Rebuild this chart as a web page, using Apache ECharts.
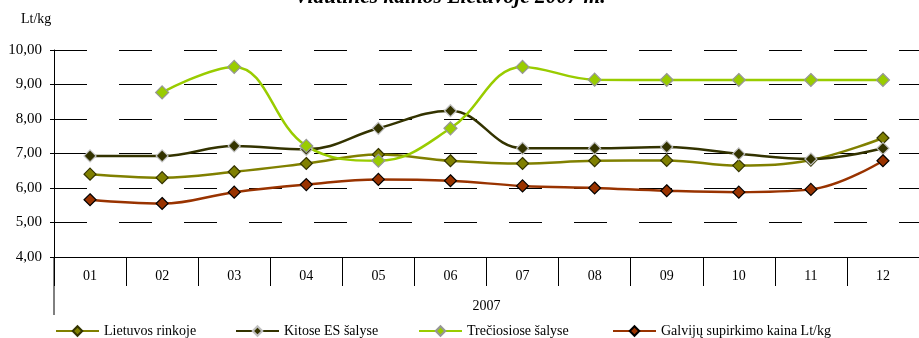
<!DOCTYPE html>
<html><head><meta charset="utf-8">
<script src="https://cdn.jsdelivr.net/npm/echarts@6/dist/echarts.min.js"></script>
<style>html,body{margin:0;padding:0;background:#fff;overflow:hidden}#c{width:919px;height:338px}</style>
</head><body><div id="c"></div>
<script>
const categories = ['01','02','03','04','05','06','07','08','09','10','11','12'];
const lietuvos = [6.40, 6.30, 6.47, 6.71, 6.97, 6.79, 6.71, 6.79, 6.80, 6.65, 6.81, 7.45];
const kitosES = [6.93, 6.93, 7.22, 7.12, 7.73, 8.24, 7.15, 7.15, 7.19, 6.99, 6.84, 7.15];
const treciosios = [null, 8.77, 9.51, 7.22, 6.79, 7.73, 9.51, 9.14, 9.13, 9.13, 9.13, 9.13];
const galviju = [5.66, 5.55, 5.88, 6.10, 6.25, 6.21, 6.06, 6.00, 5.92, 5.88, 5.96, 6.79];
const seriesNames = ['Lietuvos rinkoje', 'Kitose ES šalyse', 'Trečiosiose šalyse', 'Galvijų supirkimo kaina Lt/kg'];
const yTicks = {min: 4, max: 10, interval: 1};

const FONT = 'Liberation Serif';
const chart = echarts.init(document.getElementById('c'), null, {renderer: 'canvas'});

function mk(name, data, lineColor, fill, border, size) {
  return {
    name: name, type: 'line', data: data, smooth: 0.4, connectNulls: false,
    symbol: 'diamond', symbolSize: size, showSymbol: true,
    lineStyle: {color: lineColor, width: 2.5},
    itemStyle: {color: fill, borderColor: border, borderWidth: 1.2},
    emphasis: {disabled: true}, animation: false, z: 3
  };
}
const legendPos = [50, 230, 413, 607];
const legends = seriesNames.map((n, i) => ({
  data: [n], left: legendPos[i], top: 319, itemWidth: 43, itemHeight: 12,
  textStyle: {fontFamily: FONT, fontSize: 14, color: '#000'}, selectedMode: false
}));

chart.setOption({
  animation: false,
  backgroundColor: '#fff',
  title: [
    {text: 'Vidutinės kainos Lietuvoje 2007 m.', left: 445, textAlign: 'center', top: -19,
     textStyle: {fontFamily: FONT, fontSize: 21.5, fontWeight: 'bold', fontStyle: 'italic', color: '#000'}},
    {text: 'Lt/kg', left: 16, top: 7, textStyle: {fontFamily: FONT, fontSize: 14, fontWeight: 'normal', color: '#000'}}
  ],
  legend: legends,
  grid: {left: 54, right: -7, top: 50, bottom: 81, containLabel: false},
  xAxis: {
    type: 'category', data: categories, boundaryGap: true,
    axisLine: {show: true, lineStyle: {color: '#000', width: 1}},
    axisTick: {show: true, length: 29, interval: 0, lineStyle: {color: '#000'}},
    axisLabel: {fontFamily: FONT, fontSize: 14, color: '#000', margin: 12, interval: 0},
    name: '2007', nameLocation: 'middle', nameGap: 42,
    nameTextStyle: {fontFamily: FONT, fontSize: 14, color: '#000'},
    splitLine: {show: false}
  },
  yAxis: {
    type: 'value', min: yTicks.min, max: yTicks.max, interval: yTicks.interval,
    axisLine: {show: true, lineStyle: {color: '#000', width: 1}},
    axisTick: {show: true, length: 4, lineStyle: {color: '#000'}},
    axisLabel: {fontFamily: FONT, fontSize: 15, color: '#000', margin: 12,
      formatter: v => v.toFixed(2).replace('.', ',')},
    splitLine: {show: true, lineStyle: {color: '#000', width: 1, type: [33, 32], dashOffset: 0}}
  },
  graphic: [{type: 'line', shape: {x1: 54, y1: 257, x2: 54, y2: 315}, style: {stroke: '#000', lineWidth: 1}, z: 10}],
  series: [
    mk(seriesNames[0], lietuvos, '#808000', '#808000', '#333300', 12),
    mk(seriesNames[1], kitosES, '#333300', '#333300', '#c0c0c0', 12),
    mk(seriesNames[2], treciosios, '#99cc00', '#99cc00', '#969696', 13),
    mk(seriesNames[3], galviju, '#993300', '#993300', '#000000', 12)
  ]
});
</script></body></html>
